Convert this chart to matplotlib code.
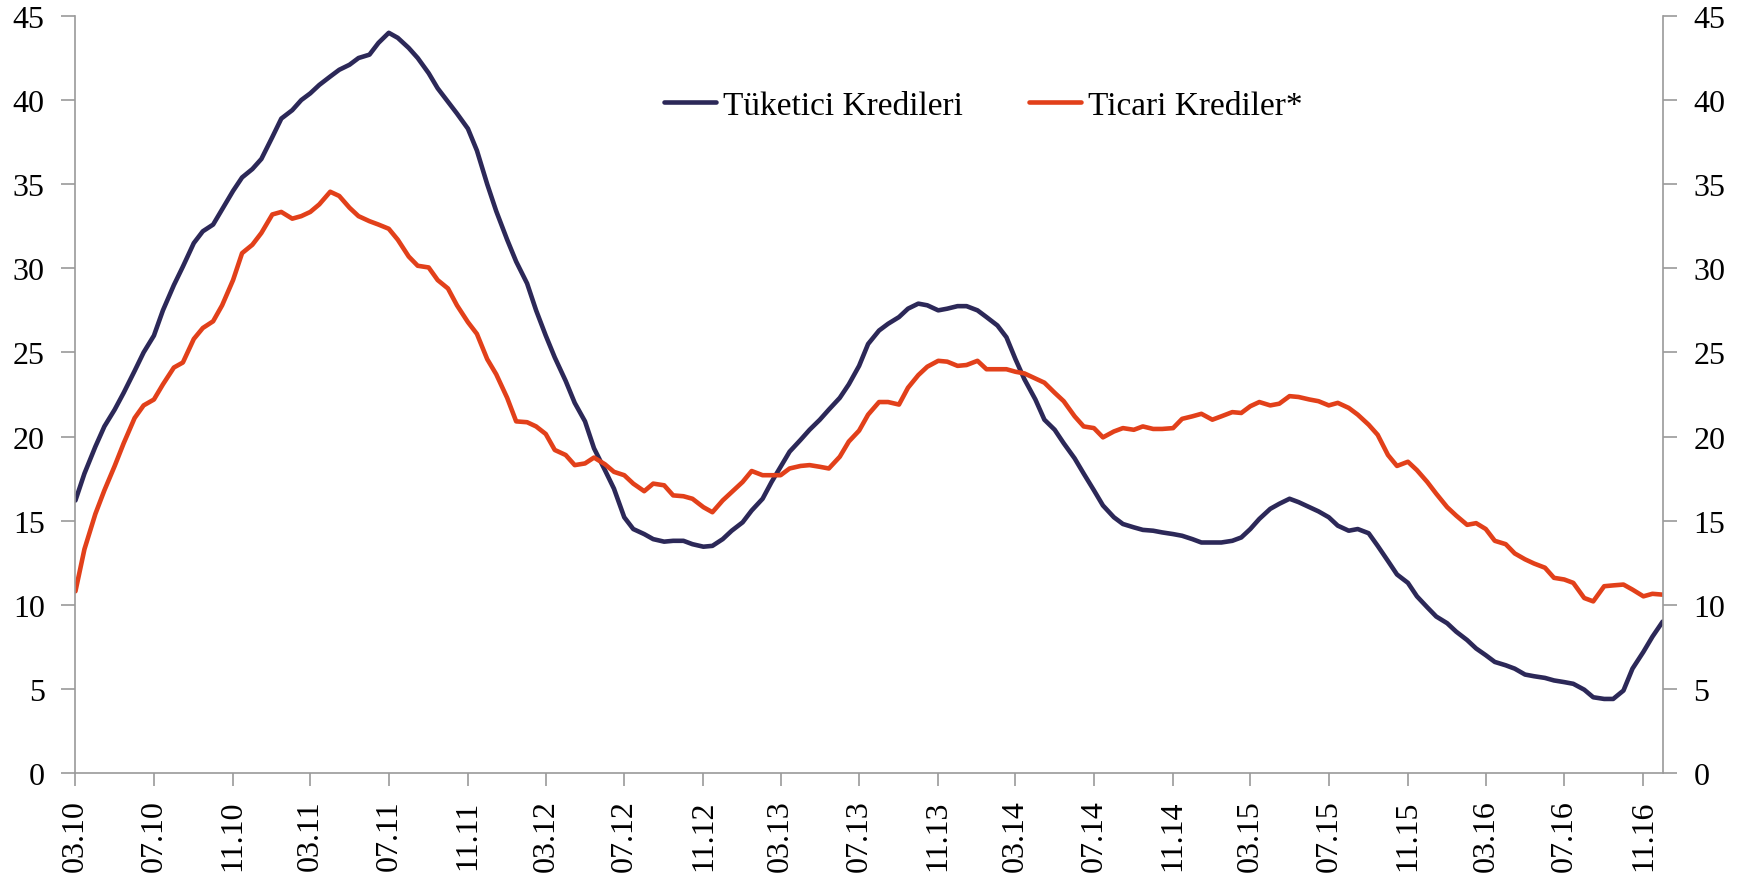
"""
Tüketici ve ticari kredi büyümesi (yıllık %, haftalık veriler)
Two-series line chart, mirrored y axis on both sides.
"""

import matplotlib
matplotlib.use('Agg')
import matplotlib.pyplot as plt
import matplotlib.dates as mdates
import pandas as pd

# ── data, twice a month from 03.10 to 12.16 ──────────────────────────────
START = '2010-03-01'
N_POINTS = 163

TUKETICI = [
    16.2, 17.8, 19.4, 20.6, 21.6, 22.6, 23.9, 25.0, 26.0, 27.5,
    29.0, 30.1, 31.5, 32.2, 32.6, 33.5, 34.6, 35.4, 35.9, 36.5,
    37.8, 38.9, 39.4, 40.0, 40.4, 40.9, 41.4, 41.8, 42.1, 42.5,
    42.7, 43.4, 44.0, 43.7, 43.1, 42.5, 41.6, 40.7, 39.9, 39.2,
    38.3, 37.0, 35.0, 33.4, 31.7, 30.4, 29.1, 27.5, 26.0, 24.7,
    23.3, 22.0, 20.9, 19.3, 18.0, 16.9, 15.2, 14.5, 14.2, 13.9,
    13.75, 13.8, 13.8, 13.6, 13.45, 13.5, 13.9, 14.4, 14.9, 15.6,
    16.3, 17.3, 18.2, 19.1, 19.8, 20.4, 21.0, 21.6, 22.3, 23.1,
    24.2, 25.5, 26.3, 26.7, 27.1, 27.6, 27.9, 27.8, 27.5, 27.6,
    27.75, 27.75, 27.5, 27.1, 26.6, 25.9, 24.6, 23.4, 22.2, 21.0,
    20.4, 19.6, 18.7, 17.8, 16.8, 15.9, 15.2, 14.8, 14.6, 14.45,
    14.4, 14.3, 14.2, 14.1, 13.9, 13.7, 13.7, 13.7, 13.8, 14.0,
    14.5, 15.1, 15.7, 16.0, 16.3, 16.1, 15.8, 15.55, 15.2, 14.7,
    14.4, 14.5, 14.25, 13.5, 12.6, 11.8, 11.3, 10.5, 9.85, 9.3,
    8.9, 8.4, 7.9, 7.4, 7.0, 6.6, 6.4, 6.2, 5.85, 5.75,
    5.65, 5.5, 5.4, 5.3, 4.95, 4.5, 4.4, 4.4, 4.9, 6.2,
    7.2, 8.1, 9.0,
]

TICARI = [
    10.8, 13.3, 15.4, 16.8, 18.25, 19.6, 21.1, 21.85, 22.2, 23.1,
    24.1, 24.4, 25.8, 26.45, 26.85, 27.8, 29.3, 30.9, 31.4, 32.1,
    33.2, 33.35, 32.95, 33.1, 33.35, 33.8, 34.55, 34.3, 33.6, 33.1,
    32.8, 32.6, 32.35, 31.7, 30.7, 30.15, 30.05, 29.3, 28.8, 27.8,
    26.8, 26.1, 24.6, 23.7, 22.3, 20.9, 20.85, 20.6, 20.15, 19.2,
    18.9, 18.3, 18.4, 18.75, 18.35, 17.9, 17.7, 17.2, 16.75, 17.2,
    17.1, 16.5, 16.45, 16.3, 15.8, 15.5, 16.2, 16.7, 17.3, 17.95,
    17.7, 17.7, 17.7, 18.1, 18.25, 18.3, 18.2, 18.1, 18.8, 19.7,
    20.35, 21.3, 22.05, 22.05, 21.9, 22.9, 23.65, 24.15, 24.5, 24.45,
    24.2, 24.25, 24.5, 24.0, 24.0, 24.0, 23.85, 23.75, 23.45, 23.2,
    22.6, 22.1, 21.2, 20.6, 20.5, 19.95, 20.3, 20.5, 20.4, 20.6,
    20.45, 20.45, 20.5, 21.05, 21.2, 21.35, 21.0, 21.2, 21.45, 21.4,
    21.8, 22.05, 21.85, 21.95, 22.4, 22.35, 22.2, 22.1, 21.85, 22.0,
    21.7, 21.3, 20.7, 20.1, 18.9, 18.25, 18.5, 18.0, 17.3, 16.6,
    15.8, 15.3, 14.75, 14.85, 14.5, 13.8, 13.6, 13.05, 12.7, 12.45,
    12.2, 11.6, 11.5, 11.3, 10.4, 10.2, 11.1, 11.15, 11.2, 10.9,
    10.5, 10.65, 10.6,
]

SERIES_NAMES = ['Tüketici Kredileri', 'Ticari Krediler*']
COLORS = ['#2c2858', '#e2401a']
Y_TICKS = list(range(0, 50, 5))

AXIS_GREY = '#9a9a9a'


def plot():
    plt.rcParams['font.family'] = ['Liberation Serif', 'DejaVu Serif']

    dates = pd.date_range(START, periods=N_POINTS, freq='SMS')
    ticks = pd.date_range(START, dates[-1], freq='4MS')
    ticks = ticks[ticks < dates[-1] - pd.Timedelta(days=15)]

    fig = plt.figure(figsize=(17.46, 8.79), dpi=100)
    ax = fig.add_axes([0.0432, 0.1195, 0.9091, 0.8612])

    ax.plot(dates, TUKETICI, color=COLORS[0], lw=3.3, label=SERIES_NAMES[0],
            solid_capstyle='round', solid_joinstyle='round')
    ax.plot(dates, TICARI, color=COLORS[1], lw=3.3, label=SERIES_NAMES[1],
            solid_capstyle='round', solid_joinstyle='round')

    ax.set_xlim(dates[0], dates[-1])
    ax.set_ylim(0, 45)
    ax.set_yticks(Y_TICKS)

    ax.set_xticks(ticks)
    ax.xaxis.set_major_formatter(mdates.DateFormatter('%m.%y'))
    for lbl in ax.get_xticklabels():
        lbl.set_rotation(90)

    for side in ('left', 'right', 'bottom'):
        ax.spines[side].set_color(AXIS_GREY)
        ax.spines[side].set_linewidth(1.2)
    ax.spines['top'].set_visible(False)

    ax.tick_params(axis='y', which='major', direction='out', length=10,
                   width=1.2, color=AXIS_GREY, left=True, right=True,
                   labelleft=True, labelright=True, labelsize=23, pad=12)
    ax.tick_params(axis='x', which='major', direction='out', length=9,
                   width=1.2, color=AXIS_GREY, labelsize=23, pad=10)

    ax.legend(loc='center', bbox_to_anchor=(0.572, 0.882), ncol=2,
              frameon=False, fontsize=24, handlelength=1.55,
              handletextpad=0.2, columnspacing=2.0)

    fig.savefig('out.png', dpi=100, facecolor='white')
    plt.close(fig)


if __name__ == '__main__':
    plot()
